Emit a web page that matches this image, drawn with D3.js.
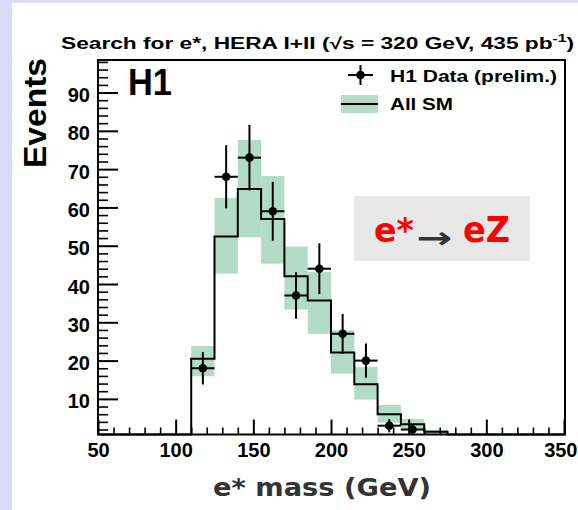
<!DOCTYPE html>
<html>
<head>
<meta charset="utf-8">
<script src="https://cdn.jsdelivr.net/npm/d3@7"></script>
<style>
  html, body { margin: 0; padding: 0; background: #dcdcf9; }
  svg { display: block; }
</style>
</head>
<body>
<svg id="chart" width="578" height="510"></svg>
<script>
// e* -> eZ mass spectrum: H1 data vs. Standard Model expectation
const binEdges = [110, 125, 140, 155, 170, 185, 200, 215, 230, 245, 260, 275];
const smValues = [20.5, 52.4, 64.8, 57.0, 42.0, 35.7, 22.1, 13.8, 6.0, 3.4, 1.4];
const smLow    = [15.9, 42.7, 52.2, 45.3, 33.3, 27.0, 16.6, 9.8, 3.8, 1.8, 0.9];
const smHigh   = [23.8, 62.5, 77.6, 68.2, 49.8, 43.1, 27.9, 18.3, 8.4, 4.8, 1.9];
const dataCenters = [117.5, 132.5, 147.5, 162.5, 177.5, 192.5, 207.5, 222.5, 237.5, 252.5];
const dataCounts  = [18, 68, 73, 59, 37, 44, 27, 20, 3, 2];
const xMajorTicks = [50, 100, 150, 200, 250, 300, 350];
const yMajorTicks = [10, 20, 30, 40, 50, 60, 70, 80, 90];

const svg = d3.select("#chart");
const green = "#b3dcc8";

// page backdrop: white sheet on lavender
svg.append("rect").attr("x", 0).attr("y", 0).attr("width", 578).attr("height", 510).attr("fill", "#dcdcf9");
svg.append("rect").attr("x", 12).attr("y", 3).attr("width", 566).attr("height", 507).attr("fill", "#ffffff");

const x = d3.scaleLinear().domain([50, 350]).range([98, 564]);
const y = d3.scaleLinear().domain([0.7, 98.5]).range([434.5, 60]);
const yc = v => y(Math.max(v, 0.7));

const bins = smValues.map((v, i) => ({
  x0: binEdges[i], x1: binEdges[i + 1], v, lo: smLow[i], hi: smHigh[i]
}));

// SM uncertainty band
svg.append("g").selectAll("rect").data(bins).join("rect")
  .attr("x", d => x(d.x0))
  .attr("width", d => x(d.x1) - x(d.x0))
  .attr("y", d => yc(d.hi))
  .attr("height", d => yc(d.lo) - yc(d.hi))
  .attr("fill", green);

// SM histogram outline (step line)
const stepPts = [[x(50), y(0.7)], [x(binEdges[0]), y(0.7)]];
bins.forEach(d => { stepPts.push([x(d.x0), yc(d.v)]); stepPts.push([x(d.x1), yc(d.v)]); });
stepPts.push([x(binEdges[binEdges.length - 1]), y(0.7)]);
stepPts.push([x(350), y(0.7)]);
svg.append("path")
  .attr("d", d3.line()(stepPts))
  .attr("fill", "none").attr("stroke", "#000").attr("stroke-width", 2);

// data points with statistical error bars
const pts = dataCenters.map((c, i) => ({ c, n: dataCounts[i] }));
const gp = svg.append("g");
gp.selectAll("line.h").data(pts).join("line")
  .attr("x1", d => x(d.c - 7.5)).attr("x2", d => x(d.c + 7.5))
  .attr("y1", d => y(d.n)).attr("y2", d => y(d.n))
  .attr("stroke", "#000").attr("stroke-width", 2);
gp.selectAll("line.v").data(pts).join("line")
  .attr("x1", d => x(d.c)).attr("x2", d => x(d.c))
  .attr("y1", d => yc(d.n + Math.sqrt(d.n))).attr("y2", d => yc(d.n - Math.sqrt(d.n)))
  .attr("stroke", "#000").attr("stroke-width", 2);
gp.selectAll("circle").data(pts).join("circle")
  .attr("cx", d => x(d.c)).attr("cy", d => y(d.n)).attr("r", 4.3).attr("fill", "#000");

// frame
svg.append("rect").attr("x", 98).attr("y", 60).attr("width", 467).attr("height", 374.5)
  .attr("fill", "none").attr("stroke", "#000").attr("stroke-width", 2);

// y axis ticks (inside) and labels
const yMinor = d3.range(2, 99, 2).filter(v => v % 10 !== 0);
svg.append("g").attr("transform", "translate(98,0)")
  .call(d3.axisRight(y).tickValues(yMinor).tickSize(10).tickFormat(""))
  .call(g => g.select(".domain").remove())
  .call(g => g.selectAll("line").attr("stroke", "#000").attr("stroke-width", 1.6));
svg.append("g").attr("transform", "translate(98,0)")
  .call(d3.axisRight(y).tickValues(yMajorTicks).tickSize(20).tickFormat(""))
  .call(g => g.select(".domain").remove())
  .call(g => g.selectAll("line").attr("stroke", "#000").attr("stroke-width", 2));
svg.append("g").attr("transform", "translate(98,0)")
  .call(d3.axisLeft(y).tickValues(yMajorTicks).tickSize(0).tickPadding(8).tickFormat(d3.format("d")))
  .call(g => g.select(".domain").remove())
  .call(g => g.selectAll("text")
    .attr("font-family", "Liberation Sans, Arial, sans-serif")
    .attr("font-weight", "bold").attr("font-size", 20).attr("fill", "#000")
    .attr("dy", "0.45em"));

// x axis ticks (inside) and labels
const xMinor = d3.range(60, 350, 10).filter(v => v % 50 !== 0);
svg.append("g").attr("transform", "translate(0,434.5)")
  .call(d3.axisTop(x).tickValues(xMinor).tickSize(7).tickFormat(""))
  .call(g => g.select(".domain").remove())
  .call(g => g.selectAll("line").attr("stroke", "#000").attr("stroke-width", 1.6));
svg.append("g").attr("transform", "translate(0,434.5)")
  .call(d3.axisTop(x).tickValues(xMajorTicks).tickSize(15).tickFormat(""))
  .call(g => g.select(".domain").remove())
  .call(g => g.selectAll("line").attr("stroke", "#000").attr("stroke-width", 2));
svg.append("g").attr("transform", "translate(0,434.5)")
  .call(d3.axisBottom(x).tickValues(xMajorTicks).tickSize(0).tickPadding(8).tickFormat(d3.format("d")))
  .call(g => g.select(".domain").remove())
  .call(g => g.selectAll("text")
    .attr("font-family", "Liberation Sans, Arial, sans-serif")
    .attr("font-weight", "bold").attr("font-size", 20).attr("fill", "#000"))
  // keep the last label inside the page edge
  .call(g => g.selectAll(".tick").filter(d => d === 350).select("text")
    .attr("text-anchor", "end").attr("x", 13));

// title
const title = svg.append("text").attr("x", 61).attr("y", 49)
  .attr("font-family", "Liberation Sans, Arial, sans-serif")
  .attr("font-weight", "bold").attr("font-size", 16).attr("fill", "#000")
  .attr("textLength", 513).attr("lengthAdjust", "spacingAndGlyphs");
title.append("tspan").text("Search for e*, HERA I+II (√s = 320 GeV, 435 pb");
title.append("tspan").attr("font-size", 11).attr("dy", -7).text("-1");
title.append("tspan").attr("dy", 7).text(")");

// experiment tag
svg.append("text").attr("x", 128).attr("y", 95)
  .attr("font-family", "Liberation Sans, Arial, sans-serif")
  .attr("font-weight", "bold").attr("font-size", 37).attr("fill", "#000")
  .attr("textLength", 44).attr("lengthAdjust", "spacingAndGlyphs")
  .text("H1");

// y axis title
svg.append("text")
  .attr("transform", "translate(46,113) rotate(-90)")
  .attr("text-anchor", "middle")
  .attr("font-family", "Liberation Sans, Arial, sans-serif")
  .attr("font-weight", "bold").attr("font-size", 31).attr("fill", "#000")
  .attr("textLength", 110).attr("lengthAdjust", "spacingAndGlyphs")
  .text("Events");

// x axis title
svg.append("text").attr("x", 213).attr("y", 496)
  .attr("font-family", "DejaVu Sans, sans-serif")
  .attr("font-weight", "bold").attr("font-size", 25).attr("fill", "#333")
  .attr("textLength", 218).attr("lengthAdjust", "spacingAndGlyphs")
  .text("e* mass (GeV)");

// legend
const lg = svg.append("g");
lg.append("line").attr("x1", 348).attr("x2", 373).attr("y1", 75).attr("y2", 75)
  .attr("stroke", "#000").attr("stroke-width", 2);
lg.append("line").attr("x1", 360.5).attr("x2", 360.5).attr("y1", 65).attr("y2", 85)
  .attr("stroke", "#000").attr("stroke-width", 2);
lg.append("circle").attr("cx", 360.5).attr("cy", 75).attr("r", 4.3).attr("fill", "#000");
lg.append("text").attr("x", 390).attr("y", 82)
  .attr("font-family", "Liberation Sans, Arial, sans-serif")
  .attr("font-weight", "bold").attr("font-size", 16).attr("fill", "#000")
  .attr("textLength", 167).attr("lengthAdjust", "spacingAndGlyphs")
  .text("H1 Data (prelim.)");
lg.append("rect").attr("x", 341).attr("y", 95).attr("width", 37).attr("height", 18).attr("fill", green);
lg.append("line").attr("x1", 341).attr("x2", 378).attr("y1", 104).attr("y2", 104)
  .attr("stroke", "#000").attr("stroke-width", 2);
lg.append("text").attr("x", 390).attr("y", 110)
  .attr("font-family", "Liberation Sans, Arial, sans-serif")
  .attr("font-weight", "bold").attr("font-size", 16).attr("fill", "#000")
  .attr("textLength", 63).attr("lengthAdjust", "spacingAndGlyphs")
  .text("All SM");

// channel label
const cb = svg.append("g");
cb.append("rect").attr("x", 354).attr("y", 196).attr("width", 176).attr("height", 65).attr("fill", "#e8e8e8");
cb.append("text").attr("x", 374).attr("y", 242)
  .attr("font-family", "DejaVu Sans, sans-serif")
  .attr("font-weight", "bold").attr("font-size", 34).attr("fill", "#ff0000")
  .attr("textLength", 40).attr("lengthAdjust", "spacingAndGlyphs")
  .text("e*");
cb.append("text").attr("x", 416).attr("y", 248)
  .attr("font-family", "DejaVu Sans, sans-serif")
  .attr("font-weight", "bold").attr("font-size", 30).attr("fill", "#333")
  .attr("textLength", 36).attr("lengthAdjust", "spacingAndGlyphs")
  .text("→");
cb.append("text").attr("x", 463).attr("y", 242)
  .attr("font-family", "DejaVu Sans, sans-serif")
  .attr("font-weight", "bold").attr("font-size", 36).attr("fill", "#ff0000")
  .attr("textLength", 47).attr("lengthAdjust", "spacingAndGlyphs")
  .text("eZ");
</script>
</body>
</html>
